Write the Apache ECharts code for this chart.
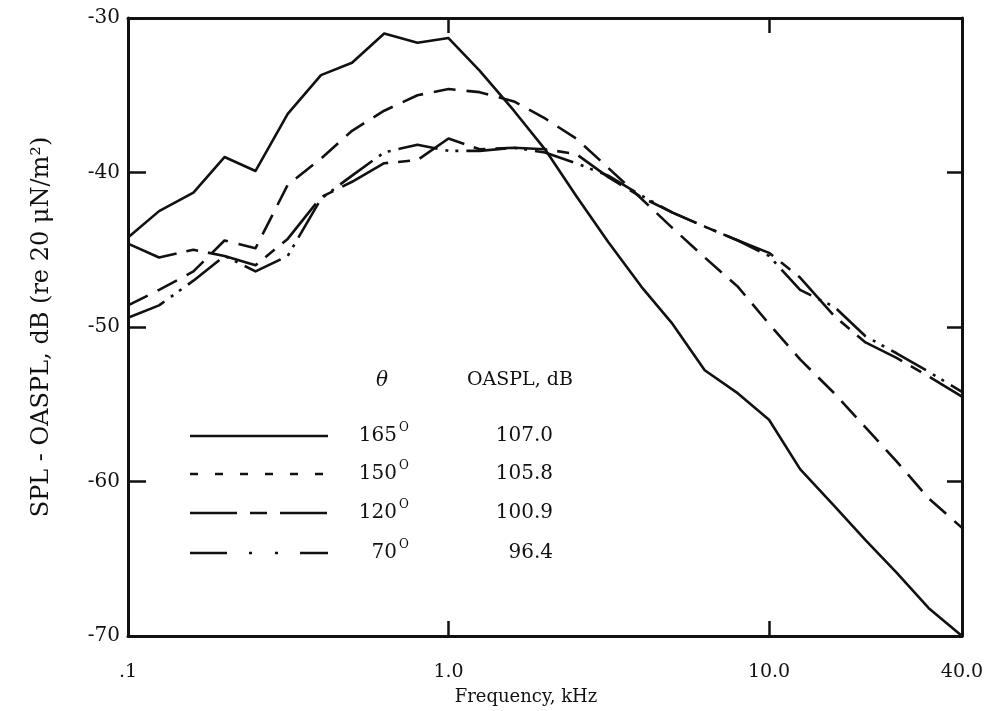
<!DOCTYPE html>
<html>
<head>
<meta charset="utf-8">
<script src="https://cdn.jsdelivr.net/npm/echarts@6/dist/echarts.min.js"></script>
<style>
  html, body { margin: 0; padding: 0; background: #fff; }
  #chart { width: 990px; height: 711px; }
</style>
</head>
<body>
<div id="chart"></div>
<script>
// One-third-octave band centre frequencies, kHz
const freqKHz = [0.1, 0.125, 0.16, 0.2, 0.25, 0.315, 0.4, 0.5, 0.63, 0.8, 1.0, 1.25, 1.6, 2.0, 2.5,
                 3.15, 4.0, 5.0, 6.3, 8.0, 10, 12.5, 16, 20, 25, 31.5, 40];

// Normalised spectra, SPL - OASPL (dB), one array per directivity angle
const spl165 = [-44.2, -42.5, -41.3, -39.0, -39.9, -36.2, -33.7, -32.9, -31.0, -31.6, -31.3, -33.4, -36.0, -38.5,
                -41.5, -44.5, -47.4, -49.8, -52.8, -54.3, -56.0, -59.2, -61.6, -63.8, -65.9, -68.2, -70.0];
const spl150 = [-48.6, -47.6, -46.4, -44.4, -44.9, -40.8, -39.1, -37.3, -36.0, -35.0, -34.6, -34.8, -35.4, -36.5,
                -37.8, -39.7, -41.7, -43.6, -45.5, -47.4, -49.8, -52.1, -54.3, -56.5, -58.7, -61.1, -63.0];
const spl120 = [-44.6, -45.5, -45.0, -45.4, -46.0, -44.3, -41.6, -40.6, -39.4, -39.2, -37.8, -38.5, -38.4, -38.5,
                -38.8, -40.3, -41.6, -42.6, -43.5, -44.4, -45.2, -46.8, -49.3, -51.0, -52.0, -53.2, -54.5];
const spl70  = [-49.4, -48.6, -47.0, -45.4, -46.4, -45.4, -41.7, -40.2, -38.7, -38.2, -38.6, -38.6, -38.4, -38.7,
                -39.4, -40.2, -41.5, -42.6, -43.5, -44.4, -45.4, -47.6, -48.7, -50.6, -51.7, -52.9, -54.2];

// Axis ticks
const xTickValues = [0.1, 1, 10, 40];
const xTickLabels = ['.1', '1.0', '10.0', '40.0'];
const yMin = -70, yMax = -30, yStep = 10;

// Key entries
const keyAngles = ['165', '150', '120', '70'];
const keyOaspl = ['107.0', '105.8', '100.9', '96.4'];

const INK = '#111';
const SERIF = '"DejaVu Serif", "Liberation Serif", serif';

// Dash patterns, one per angle (plot and key use their own scale)
const plotDash = ['solid', [22, 11], [52, 10, 12, 10], [40, 8, 3, 7, 3, 8]];
const keyDash = [null, [8, 17], [47, 13, 17, 13, 47], [37, 22, 3, 23, 3, 22, 37]];

const seriesData = [spl165, spl150, spl120, spl70];

function pairs(vals) {
  return freqKHz.map((f, i) => [f, vals[i]]);
}

function xLabel(v) {
  for (let i = 0; i < xTickValues.length; i++) {
    if (Math.abs(Math.log10(v) - Math.log10(xTickValues[i])) < 1e-6) return xTickLabels[i];
  }
  return '';
}

const chart = echarts.init(document.getElementById('chart'), null, { renderer: 'canvas' });

const axisLine = { show: true, lineStyle: { color: INK, width: 3 } };
const innerTick = (len) => ({ show: true, inside: true, length: len, lineStyle: { color: INK, width: 2.5 } });

// Key (drawn as graphic elements)
const keyGraphics = [];
const rowY = [436, 474, 513, 553];
keyGraphics.push({
  type: 'text', left: 376, top: 371,
  style: { text: 'θ', font: 'italic 20px ' + SERIF, fill: INK }
});
keyGraphics.push({
  type: 'text', left: 467, top: 371,
  style: { text: 'OASPL, dB', font: '19px ' + SERIF, fill: INK }
});
rowY.forEach((y, i) => {
  const line = {
    type: 'line',
    shape: { x1: 190, y1: y, x2: 328, y2: y },
    style: { stroke: INK, lineWidth: 2.5, lineCap: 'butt' }
  };
  if (keyDash[i]) line.style.lineDash = keyDash[i];
  keyGraphics.push(line);
  keyGraphics.push({
    type: 'text', x: 397, y: y,
    style: { text: keyAngles[i], font: '20px ' + SERIF, fill: INK, align: 'right', verticalAlign: 'middle' }
  });
  keyGraphics.push({
    type: 'text', x: 399, y: y - 8,
    style: { text: 'O', font: '12px ' + SERIF, fill: INK, align: 'left', verticalAlign: 'middle' }
  });
  keyGraphics.push({
    type: 'text', x: 553, y: y,
    style: { text: keyOaspl[i], font: '20px ' + SERIF, fill: INK, align: 'right', verticalAlign: 'middle' }
  });
});

const option = {
  backgroundColor: '#fff',
  animation: false,
  grid: { left: 128, right: 28, top: 18, bottom: 75, containLabel: false },
  xAxis: [
    {
      type: 'log', logBase: 10, min: 0.1, max: 40, position: 'bottom',
      axisLine: axisLine, axisTick: innerTick(15),
      splitLine: { show: false }, minorTick: { show: false },
      axisLabel: {
        formatter: xLabel, margin: 27, color: INK,
        fontFamily: SERIF, fontSize: 19
      },
      name: 'Frequency, kHz', nameLocation: 'middle', nameGap: 52,
      nameTextStyle: { fontFamily: SERIF, fontSize: 18, color: INK, padding: [0, 38, 0, 0] }
    },
    {
      type: 'log', logBase: 10, min: 0.1, max: 40, position: 'top',
      axisLine: axisLine, axisTick: innerTick(15),
      axisLabel: { show: false }, splitLine: { show: false }
    }
  ],
  yAxis: [
    {
      type: 'value', min: yMin, max: yMax, interval: yStep, position: 'left',
      axisLine: axisLine, axisTick: innerTick(18),
      splitLine: { show: false },
      axisLabel: { margin: 8, color: INK, fontFamily: SERIF, fontSize: 20 },
      name: 'SPL - OASPL, dB (re 20 μN/m²)', nameLocation: 'middle', nameGap: 74, nameRotate: 90,
      nameTextStyle: { fontFamily: SERIF, fontSize: 24, color: INK }
    },
    {
      type: 'value', min: yMin, max: yMax, interval: yStep, position: 'right',
      axisLine: axisLine, axisTick: innerTick(15),
      axisLabel: { show: false }, splitLine: { show: false }
    }
  ],
  series: seriesData.map((vals, i) => ({
    name: keyAngles[i] + '°',
    type: 'line',
    xAxisIndex: 0, yAxisIndex: 0,
    data: pairs(vals),
    showSymbol: false, symbol: 'none',
    lineStyle: { color: INK, width: 2.6, type: plotDash[i], cap: 'butt', join: 'round' },
    z: 3
  })),
  graphic: keyGraphics
};

chart.setOption(option);
</script>
</body>
</html>
